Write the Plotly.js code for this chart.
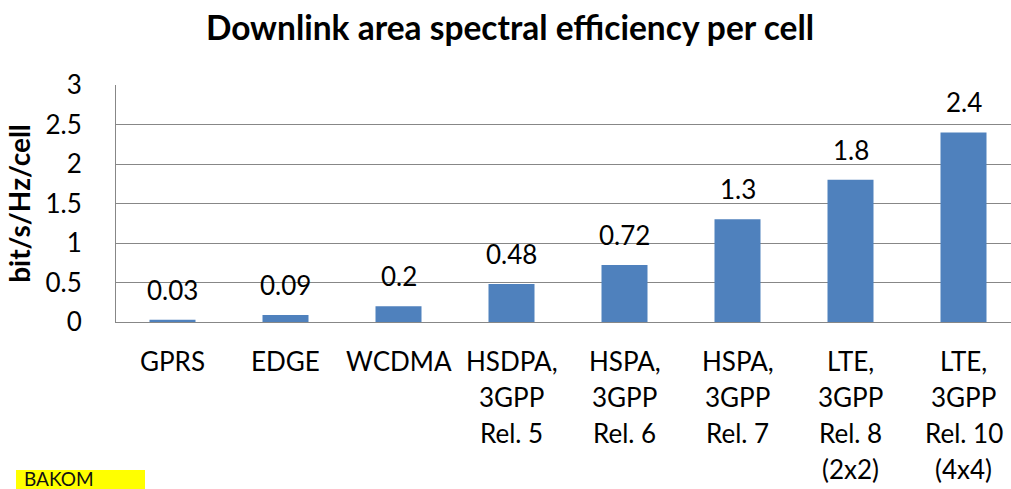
<!DOCTYPE html>
<html>
<head>
<meta charset="utf-8">
<script src="https://cdn.plot.ly/plotly-3.0.1.min.js"></script>
<style>html,body{margin:0;padding:0;background:#fff;overflow:hidden;}</style>
</head>
<body>
<div id="chart" style="width:1020px;height:489px;"></div>
<script>
const categories = [
  "GPRS",
  "EDGE",
  "WCDMA",
  "HSDPA,<br>3GPP<br>Rel. 5",
  "HSPA,<br>3GPP<br>Rel. 6",
  "HSPA,<br>3GPP<br>Rel. 7",
  "LTE,<br>3GPP<br>Rel. 8<br>(2x2)",
  "LTE,<br>3GPP<br>Rel. 10<br>(4x4)"
];
const values = [0.03, 0.09, 0.2, 0.48, 0.72, 1.3, 1.8, 2.4];
const valueLabels = ["0.03", "0.09", "0.2", "0.48", "0.72", "1.3", "1.8", "2.4"];
const yTicks = [0, 0.5, 1, 1.5, 2, 2.5, 3];
const yTickLabels = ["0", "0.5", "1", "1.5", "2", "2.5", "3"];

const FONT = "Lato, 'Open Sans', sans-serif";
const W = 1020, H = 489, ML = 116, MR = 0, MT = 85, MB = 167;
const PW = W - ML - MR, PH = H - MT - MB;
const px = (x) => (x - ML) / PW;
const py = (y) => (MT + PH - y) / PH;

const annotations = [];
values.forEach((v, i) => {
  annotations.push({
    x: categories[i], y: v, xref: 'x', yref: 'y',
    text: valueLabels[i], showarrow: false,
    yanchor: 'middle', yshift: 30,
    font: {family: FONT, size: 26, color: '#000'}
  });
});
categories.forEach((c) => {
  c.split('<br>').forEach((line, j) => {
    annotations.push({
      x: c, y: 0, xref: 'x', yref: 'paper',
      text: line, showarrow: false,
      yanchor: 'middle', yshift: -(39 + j * 36),
      font: {family: FONT, size: 26, color: '#000'}
    });
  });
});
annotations.push({
  x: px(22), y: py(478), xref: 'paper', yref: 'paper',
  xanchor: 'left', yanchor: 'middle',
  text: 'BAKOM', showarrow: false,
  font: {family: FONT, size: 19, color: '#111'}
});

const data = [{
  type: 'bar',
  x: categories,
  y: values,
  marker: {color: '#4F81BD'},
  hoverinfo: 'none'
}];

const layout = {
  width: W, height: H,
  margin: {l: ML, r: MR, t: MT, b: MB},
  paper_bgcolor: '#fff', plot_bgcolor: '#fff',
  bargap: 0.593,
  showlegend: false,
  title: {
    text: '<b>Downlink area spectral efficiency per cell</b>',
    x: 510 / W, xanchor: 'center', y: 1 - 28 / H, yanchor: 'middle',
    font: {family: FONT, size: 33.5, color: '#000'}
  },
  xaxis: {
    showticklabels: false,
    showline: true, linecolor: '#878787', linewidth: 1,
    showgrid: false, ticks: '', fixedrange: true
  },
  yaxis: {
    range: [0, 3],
    tickvals: yTicks, ticktext: yTickLabels,
    showgrid: true, gridcolor: '#878787', gridwidth: 1,
    showline: true, linecolor: '#878787', linewidth: 1,
    zeroline: false, ticks: '',
    ticklabelstandoff: 28,
    tickfont: {family: FONT, size: 26, color: '#000'},
    title: {
      text: '<b>bit/s/Hz/cell</b>',
      standoff: 6,
      font: {family: FONT, size: 28, color: '#000'}
    },
    fixedrange: true
  },
  shapes: [{
    type: 'rect', xref: 'paper', yref: 'paper',
    x0: px(16), x1: px(145), y0: py(490), y1: py(470),
    fillcolor: '#FFFF00', line: {width: 0}, layer: 'below'
  }],
  annotations: annotations
};

Plotly.newPlot('chart', data, layout, {displayModeBar: false, staticPlot: true});
</script>
</body>
</html>
